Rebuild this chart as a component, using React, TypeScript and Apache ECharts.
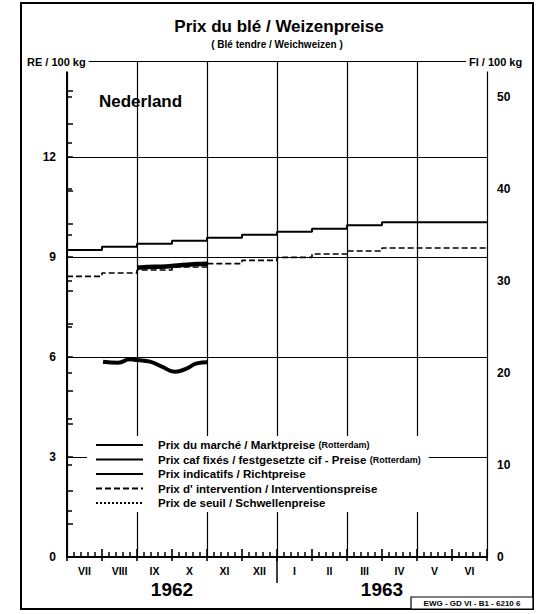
import React, { useEffect, useRef } from "react";
import * as echarts from "echarts";

// ---- data ----
const monthLabels = ["VII", "VIII", "IX", "X", "XI", "XII", "I", "II", "III", "IV", "V", "VI"];
const yearLabels = ["1962", "1963"];
const guilderPerRE = 3.62;

// monthly step values (RE/100 kg), July 1962 .. June 1963
const indicativePrices = [9.21, 9.31, 9.4, 9.49, 9.58, 9.67, 9.76, 9.85, 9.95, 10.04, 10.04, 10.04];
const interventionPrices = [8.42, 8.52, 8.61, 8.7, 8.8, 8.9, 8.99, 9.09, 9.18, 9.27, 9.27, 9.27];

// fixed cif prices (months since 1 July 1962)
const cafMonths = [2.0, 2.3, 2.7, 3.0, 3.3, 3.7, 4.0];
const cafPrices = [8.68, 8.7, 8.71, 8.73, 8.76, 8.79, 8.8];

// market prices Rotterdam
const marketMonths = [1.03, 1.46, 1.8, 2.0, 2.37, 2.71, 3.09, 3.43, 3.71, 4.0];
const marketPrices = [5.86, 5.83, 5.93, 5.91, 5.86, 5.71, 5.56, 5.66, 5.81, 5.84];

// threshold prices (not plotted in this panel)
const thresholdPrices: number[][] = [];

const seriesNames = [
  "Prix du marché / Marktpreise",
  "Prix caf fixés / festgesetzte cif - Preise",
  "Prix indicatifs / Richtpreise",
  "Prix d' intervention / Interventionspreise",
  "Prix de seuil / Schwellenpreise",
];

const FONT = "'Liberation Sans', Arial, sans-serif";
const Y_MAX = 14.88;

const stepData = (vals: number[]) => {
  const d = vals.map((v, i) => [i, v]);
  d.push([vals.length, vals[vals.length - 1]]);
  return d;
};
const pairData = (xs: number[], ys: number[]) => xs.map((x, i) => [x, ys[i]]);

export default function App() {
  const ref = useRef<HTMLDivElement>(null);
  useEffect(() => {
    if (!ref.current) return;
    const chart = echarts.init(ref.current, undefined, { renderer: "svg" });
    const black = "#000";
    const option: any = {
      animation: false,
      backgroundColor: "#fff",
      textStyle: { fontFamily: FONT },
      grid: { left: 67, right: 60, top: 61, bottom: 57, containLabel: false },
      xAxis: [
        {
          type: "value",
          min: 0,
          max: 12,
          interval: 1,
          position: "bottom",
          axisLine: { show: true, lineStyle: { color: black, width: 2 } },
          axisTick: { show: true, inside: true, length: 8, lineStyle: { color: black, width: 1.6 } },
          minorTick: { show: true, splitNumber: 5, length: 5, lineStyle: { color: black, width: 1.5 } },
          axisLabel: { show: false },
          splitLine: { show: false },
        },
        {
          type: "category",
          data: monthLabels,
          position: "bottom",
          boundaryGap: true,
          axisLine: { show: false },
          axisTick: { show: true, length: 4, lineStyle: { color: black, width: 1.6 } },
          axisLabel: { color: black, fontSize: 10.5, fontWeight: "bold", margin: 8, fontFamily: FONT },
          splitLine: { show: false },
        },
        {
          type: "category",
          data: yearLabels,
          position: "bottom",
          offset: 15,
          boundaryGap: true,
          axisLine: { show: false },
          axisTick: { show: false },
          axisLabel: { color: black, fontSize: 19, fontWeight: "bold", margin: 8, fontFamily: FONT },
          splitLine: { show: false },
        },
        {
          type: "value",
          min: 0,
          max: 12,
          interval: 2,
          position: "bottom",
          axisLine: { show: false },
          axisTick: { show: false },
          axisLabel: { show: false },
          splitLine: { show: true, lineStyle: { color: black, width: 1.2 } },
        },
      ],
      yAxis: [
        {
          type: "value",
          position: "left",
          min: 0,
          max: Y_MAX,
          interval: 1,
          axisLine: { show: true, lineStyle: { color: black, width: 2 } },
          axisTick: { show: true, inside: true, length: 6, lineStyle: { color: black, width: 1.5 } },
          axisLabel: {
            formatter: (v: number) => (Math.abs(v % 3) < 1e-6 ? String(v) : ""),
            color: black,
            fontSize: 12,
            fontWeight: "bold",
            margin: 11,
            fontFamily: FONT,
          },
          splitLine: { show: false },
        },
        {
          type: "value",
          position: "right",
          min: 0,
          max: Y_MAX * guilderPerRE,
          interval: 5,
          axisLine: { show: true, lineStyle: { color: black, width: 2 } },
          axisTick: { show: true, inside: false, length: 5, lineStyle: { color: black, width: 1.5 } },
          axisLabel: {
            formatter: (v: number) => (Math.abs(v % 10) < 1e-6 ? String(v) : ""),
            color: black,
            fontSize: 12,
            fontWeight: "bold",
            margin: 10,
            fontFamily: FONT,
          },
          splitLine: { show: false },
        },
        {
          type: "value",
          position: "left",
          min: 0,
          max: Y_MAX,
          interval: 3,
          axisLine: { show: false },
          axisTick: { show: false },
          axisLabel: { show: false },
          splitLine: { show: true, lineStyle: { color: black, width: 1.2 } },
        },
      ],
      legend: {
        orient: "vertical",
        left: 87,
        top: 436,
        itemWidth: 47,
        itemHeight: 10,
        itemGap: 2.5,
        padding: [3, 8, 3, 8],
        backgroundColor: "#fff",
        selectedMode: false,
        data: seriesNames,
        itemStyle: { color: "transparent", borderColor: "transparent", borderWidth: 0, opacity: 0 },
        formatter: (name: string) => {
          if (name === seriesNames[0] || name === seriesNames[1]) return `{a|${name}} {b|(Rotterdam)}`;
          return `{a|${name}}`;
        },
        textStyle: {
          color: black,
          padding: [0, 0, 0, 10],
          rich: {
            a: { fontSize: 11.5, fontWeight: "bold", fontFamily: FONT, color: black, lineHeight: 11 },
            b: { fontSize: 9, fontWeight: "bold", fontFamily: FONT, color: black, lineHeight: 11 },
          },
        },
      },
      series: [
        {
          name: seriesNames[0],
          type: "line",
          xAxisIndex: 0,
          yAxisIndex: 0,
          symbol: "none",
          smooth: 0.5,
          data: pairData(marketMonths, marketPrices),
          lineStyle: { color: black, width: 4 },
          itemStyle: { color: black },
          z: 5,
        },
        {
          name: seriesNames[1],
          type: "line",
          xAxisIndex: 0,
          yAxisIndex: 0,
          symbol: "none",
          smooth: 0.3,
          data: pairData(cafMonths, cafPrices),
          lineStyle: { color: black, width: 4.5 },
          itemStyle: { color: black },
          z: 5,
        },
        {
          name: seriesNames[2],
          type: "line",
          xAxisIndex: 0,
          yAxisIndex: 0,
          symbol: "none",
          step: "end",
          data: stepData(indicativePrices),
          lineStyle: { color: black, width: 2 },
          itemStyle: { color: black },
          z: 4,
        },
        {
          name: seriesNames[3],
          type: "line",
          xAxisIndex: 0,
          yAxisIndex: 0,
          symbol: "none",
          step: "end",
          data: stepData(interventionPrices),
          lineStyle: { color: black, width: 1.6, type: [6, 3] },
          itemStyle: { color: black },
          z: 4,
        },
        {
          name: seriesNames[4],
          type: "line",
          xAxisIndex: 0,
          yAxisIndex: 0,
          symbol: "none",
          data: thresholdPrices,
          lineStyle: { color: black, width: 1, type: "dotted" },
          itemStyle: { color: black },
          z: 4,
        },
      ],
    };
    chart.setOption(option);

    const xDiv = chart.convertToPixel({ xAxisIndex: 0 }, 6) as number;
    const yZero = chart.convertToPixel({ yAxisIndex: 0 }, 0) as number;

    chart.setOption({
      graphic: [
        {
          type: "rect",
          id: "frame",
          shape: { x: 21, y: 3, width: 512, height: 606 },
          style: { fill: "none", stroke: black, lineWidth: 2 },
          z: 50,
        },
        {
          type: "text",
          id: "title",
          x: 279,
          y: 26,
          style: {
            text: "Prix du blé / Weizenpreise",
            font: `bold 17px ${FONT}`,
            fill: black,
            align: "center",
            verticalAlign: "middle",
          },
          z: 50,
        },
        {
          type: "text",
          id: "subtitle",
          x: 277,
          y: 44,
          style: {
            text: "( Blé tendre / Weichweizen )",
            font: `bold 10px ${FONT}`,
            fill: black,
            align: "center",
            verticalAlign: "middle",
          },
          z: 50,
        },
        {
          type: "text",
          id: "unitLeft",
          x: 26,
          y: 62,
          style: {
            text: "RE / 100 kg",
            font: `bold 11px ${FONT}`,
            fill: black,
            align: "left",
            verticalAlign: "middle",
            backgroundColor: "#fff",
            padding: [4, 3, 4, 1],
          },
          z: 50,
        },
        {
          type: "text",
          id: "unitRight",
          x: 466,
          y: 62,
          style: {
            text: "Fl / 100 kg",
            font: `bold 11px ${FONT}`,
            fill: black,
            align: "left",
            verticalAlign: "middle",
            backgroundColor: "#fff",
            padding: [4, 2, 4, 3],
          },
          z: 50,
        },
        {
          type: "text",
          id: "country",
          x: 99,
          y: 101,
          style: {
            text: "Nederland",
            font: `bold 17px ${FONT}`,
            fill: black,
            align: "left",
            verticalAlign: "middle",
          },
          z: 50,
        },
        {
          type: "line",
          id: "yearDivider",
          shape: { x1: xDiv, y1: yZero, x2: xDiv, y2: yZero + 26 },
          style: { stroke: black, lineWidth: 1.5 },
          z: 50,
        },
        {
          type: "rect",
          id: "refBox",
          shape: { x: 411, y: 597, width: 122, height: 12 },
          style: { fill: "#fff", stroke: black, lineWidth: 1.2 },
          z: 50,
        },
        {
          type: "text",
          id: "refText",
          x: 472,
          y: 603.5,
          style: {
            text: "EWG - GD VI - B1 - 6210 6",
            font: `bold 8px ${FONT}`,
            fill: black,
            align: "center",
            verticalAlign: "middle",
          },
          z: 51,
        },
      ],
    });

    return () => chart.dispose();
  }, []);

  return (
    <div
      ref={ref}
      style={{ position: "fixed", left: 0, top: 0, width: 547, height: 614, background: "#fff" }}
    />
  );
}
